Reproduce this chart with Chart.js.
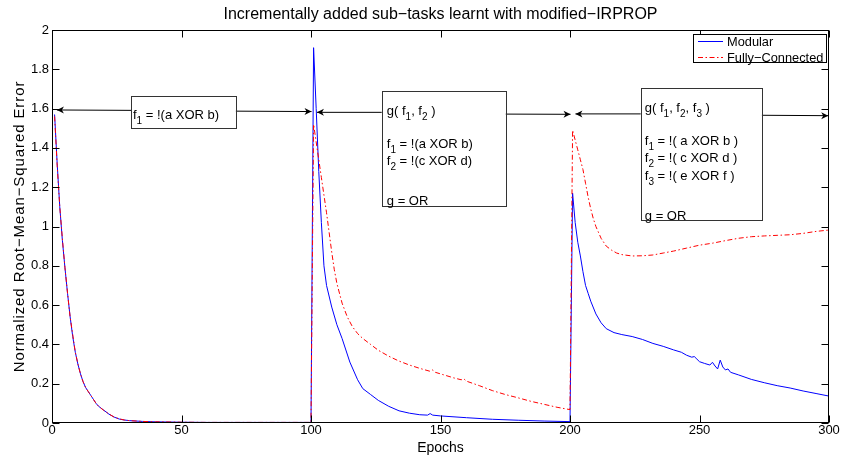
<!DOCTYPE html>
<html>
<head>
<meta charset="utf-8">
<title>Incrementally added sub-tasks</title>
<script src="https://cdn.jsdelivr.net/npm/chart.js@4.4.0/dist/chart.umd.min.js"></script>
<style>
    html, body { margin: 0; padding: 0; background: #fff; }
    #ErrorChart { display: block; }
</style>
</head>
<body>
<canvas id="ErrorChart" width="841" height="456"></canvas>
<script>
// values
var modularEpochs = [1, 2, 3, 4, 5, 6, 7, 8, 9, 10, 11, 12, 13, 14, 15, 16, 17, 18, 20, 22, 24, 26, 28, 30, 35, 40, 50, 60, 70, 80, 90, 100,
    101, 102, 103, 104, 105, 106, 108, 110, 112, 115, 118, 120, 123, 126, 130, 134, 138, 142, 145, 146, 147, 150, 160, 170, 180, 190, 200,
    201, 202, 203, 204, 205, 206, 207, 208, 210, 212, 214, 217, 220, 224, 228, 232, 236, 240, 243, 245, 247, 248, 249, 250, 252, 254, 255, 256, 257, 258, 259, 260, 261, 262, 265, 270, 275, 280, 285, 290, 295, 300];
var modularError = [1.57, 1.32, 1.10, 0.93, 0.79, 0.66, 0.54, 0.44, 0.36, 0.30, 0.25, 0.21, 0.18, 0.16, 0.14, 0.12, 0.10, 0.085, 0.065, 0.045, 0.03, 0.02, 0.015, 0.012, 0.008, 0.006, 0.004, 0.003, 0.003, 0.003, 0.003, 0.003,
    1.91, 1.60, 1.28, 1.02, 0.80, 0.70, 0.59, 0.50, 0.43, 0.31, 0.22, 0.175, 0.145, 0.115, 0.085, 0.062, 0.05, 0.042, 0.04, 0.048, 0.04, 0.036, 0.027, 0.019, 0.014, 0.01, 0.007,
    1.17, 1.02, 0.92, 0.85, 0.77, 0.70, 0.66, 0.62, 0.555, 0.51, 0.48, 0.46, 0.45, 0.44, 0.425, 0.405, 0.39, 0.372, 0.36, 0.345, 0.335, 0.338, 0.325, 0.312, 0.303, 0.295, 0.309, 0.29, 0.275, 0.32, 0.285, 0.27, 0.275, 0.258, 0.245, 0.222, 0.205, 0.19, 0.178, 0.163, 0.15, 0.137];

var fullEpochs = [1, 2, 3, 4, 5, 6, 7, 8, 9, 10, 11, 12, 13, 14, 15, 16, 17, 18, 20, 22, 24, 26, 28, 30, 35, 40, 50, 60, 70, 80, 90, 100,
    101, 102, 103, 104, 105, 106, 107, 108, 109, 110, 112, 114, 116, 118, 120, 123, 126, 130, 134, 138, 142, 146, 147, 148, 150, 155, 158, 159, 160, 165, 170, 175, 180, 185, 190, 195, 200,
    201, 202, 203, 204, 205, 206, 207, 208, 209, 210, 212, 214, 216, 218, 220, 224, 228, 232, 236, 240, 245, 250, 255, 260, 265, 270, 275, 280, 285, 290, 295, 300];
var fullError = [1.56, 1.31, 1.10, 0.94, 0.79, 0.66, 0.54, 0.45, 0.36, 0.30, 0.25, 0.21, 0.18, 0.16, 0.14, 0.12, 0.10, 0.085, 0.064, 0.046, 0.03, 0.021, 0.015, 0.012, 0.008, 0.006, 0.004, 0.003, 0.003, 0.003, 0.003, 0.003,
    1.52, 1.43, 1.34, 1.25, 1.16, 1.07, 0.97, 0.87, 0.78, 0.71, 0.61, 0.54, 0.49, 0.455, 0.43, 0.40, 0.37, 0.34, 0.315, 0.295, 0.278, 0.263, 0.27, 0.258, 0.25, 0.23, 0.22, 0.225, 0.213, 0.19, 0.165, 0.145, 0.128, 0.11, 0.095, 0.08, 0.068,
    1.49, 1.44, 1.39, 1.34, 1.29, 1.22, 1.15, 1.09, 1.04, 1.00, 0.94, 0.90, 0.88, 0.865, 0.857, 0.85, 0.851, 0.855, 0.865, 0.875, 0.89, 0.905, 0.915, 0.928, 0.94, 0.948, 0.952, 0.955, 0.958, 0.965, 0.975, 0.982];

var seriesLabels = ['Modular', 'Fully\u2212Connected'];
var epochTicks = [0, 50, 100, 150, 200, 250, 300];
var errorTicks = [0, 0.2, 0.4, 0.6, 0.8, 1, 1.2, 1.4, 1.6, 1.8, 2];
var errorTickLabels = ['0', '0.2', '0.4', '0.6', '0.8', '1', '1.2', '1.4', '1.6', '1.8', '2'];

var chartTitle = 'Incrementally added sub\u2212tasks learnt with modified\u2212IRPROP';
var xTitle = 'Epochs';
var yTitle = 'Normalized Root\u2212Mean\u2212Squared Error';

// text boxes (epoch / error units), text rows are pixel offsets from the box top
var noteBoxes = [
    { x0: 30.5, x1: 71.0, y0: 1.664, y1: 1.500, pad: 1.5, rows: [[22, 'f_1 = !(a XOR b)']] },
    { x0: 127.3, x1: 175.2, y0: 1.691, y1: 1.106, pad: 4.3, rows: [[23.8, 'g( f_1, f_2 )'], [56.6, 'f_1 = !(a XOR b)'], [73.9, 'f_2 = !(c XOR d)'], [113.3, 'g = OR']] },
    { x0: 227.3, x1: 274.1, y0: 1.705, y1: 1.032, pad: 3.3, rows: [[23, 'g( f_1, f_2, f_3 )'], [56.6, 'f_1 = !( a XOR b )'], [73.6, 'f_2 = !( c XOR d )'], [91, 'f_3 = !( e XOR f )'], [131.3, 'g = OR']] }
];
// [tail epoch, tail error, head epoch, head error]
var noteArrows = [
    [30.5, 1.591, 1.9, 1.593],
    [71.0, 1.587, 100.2, 1.585],
    [127.3, 1.581, 102.3, 1.581],
    [175.2, 1.572, 200.2, 1.571],
    [227.3, 1.573, 202.1, 1.573],
    [274.1, 1.566, 299.7, 1.564]
];

var FONT = "'Liberation Sans', Arial, Helvetica, sans-serif";

function toPoints(xs, ys) {
    return xs.map(function (x, i) { return { x: x, y: ys[i] }; });
}

function drawRich(ctx, text, x, y, size) {
    // "_1" -> subscript 1
    var parts = text.split(/_(\d)/);
    for (var i = 0; i < parts.length; i++) {
        if (parts[i] === '') continue;
        if (i % 2 === 1) {
            ctx.font = (size - 3) + 'px ' + FONT;
            ctx.fillText(parts[i], x, y + 5);
        } else {
            ctx.font = size + 'px ' + FONT;
            ctx.fillText(parts[i], x, y);
        }
        x += ctx.measureText(parts[i]).width;
    }
}

function drawHead(ctx, tx, ty, fx, fy) {
    var a = Math.atan2(ty - fy, tx - fx);
    ctx.save();
    ctx.translate(tx, ty);
    ctx.rotate(a);
    ctx.beginPath();
    ctx.moveTo(0, 0);
    ctx.lineTo(-7, -3.5);
    ctx.lineTo(-5, 0);
    ctx.lineTo(-7, 3.5);
    ctx.closePath();
    ctx.fill();
    ctx.restore();
}

var matlabLook = {
    id: 'matlabLook',
    afterDraw: function (chart) {
        var ctx = chart.ctx;
        var area = chart.chartArea;
        var xs = chart.scales.x, ys = chart.scales.y;
        var L = Math.round(area.left) + 0.5, R = Math.round(area.right) - 0.5;
        var T = Math.round(area.top) + 0.5, B = Math.round(area.bottom) - 0.5;
        ctx.save();

        // axes box and inward ticks
        ctx.strokeStyle = '#000';
        ctx.lineWidth = 1;
        ctx.strokeRect(L, T, R - L, B - T);
        ctx.beginPath();
        epochTicks.forEach(function (v) {
            var p = Math.round(xs.getPixelForValue(v)) + 0.5;
            ctx.moveTo(p, B); ctx.lineTo(p, B - 7);
            ctx.moveTo(p, T); ctx.lineTo(p, T + 7);
        });
        errorTicks.forEach(function (v) {
            var p = Math.round(ys.getPixelForValue(v)) + 0.5;
            ctx.moveTo(L, p); ctx.lineTo(L + 7, p);
            ctx.moveTo(R, p); ctx.lineTo(R - 7, p);
        });
        ctx.stroke();

        // titles
        ctx.fillStyle = '#000';
        ctx.textAlign = 'center';
        ctx.textBaseline = 'alphabetic';
        ctx.font = '16px ' + FONT;
        ctx.fillText(chartTitle, (area.left + area.right) / 2, 18.5);
        ctx.font = '14px ' + FONT;
        ctx.fillText(xTitle, (area.left + area.right) / 2, 451.5);
        ctx.save();
        ctx.translate(24, (area.top + area.bottom) / 2);
        ctx.rotate(-Math.PI / 2);
        ctx.font = '15px ' + FONT;
        ctx.letterSpacing = '0.9px';
        ctx.fillText(yTitle, 0, 0);
        ctx.restore();

        // arrows
        ctx.strokeStyle = '#000';
        ctx.fillStyle = '#000';
        noteArrows.forEach(function (a) {
            var x0 = xs.getPixelForValue(a[0]), y0 = ys.getPixelForValue(a[1]);
            var x1 = xs.getPixelForValue(a[2]), y1 = ys.getPixelForValue(a[3]);
            ctx.beginPath();
            ctx.moveTo(x0, y0);
            ctx.lineTo(x1, y1);
            ctx.stroke();
            drawHead(ctx, x1, y1, x0, y0);
        });

        // text boxes
        ctx.textAlign = 'left';
        noteBoxes.forEach(function (b) {
            var bx = Math.round(xs.getPixelForValue(b.x0)) + 0.5, by = Math.round(ys.getPixelForValue(b.y0)) + 0.5;
            var bw = Math.round(xs.getPixelForValue(b.x1)) + 0.5 - bx, bh = Math.round(ys.getPixelForValue(b.y1)) + 0.5 - by;
            ctx.strokeStyle = '#333';
            ctx.strokeRect(bx, by, bw, bh);
            ctx.fillStyle = '#000';
            b.rows.forEach(function (r) {
                drawRich(ctx, r[1], bx + b.pad, by + r[0], 13);
            });
        });

        // legend
        var lx = 693.5, ly = 34.5, lw = 133, lh = 28;
        ctx.fillStyle = '#fff';
        ctx.fillRect(lx, ly, lw, lh);
        ctx.strokeStyle = '#000';
        ctx.strokeRect(lx, ly, lw, lh);
        chart.data.datasets.forEach(function (ds, i) {
            var yy = ly + 7 + i * 16;
            ctx.strokeStyle = ds.borderColor;
            ctx.setLineDash(ds.borderDash || []);
            ctx.beginPath();
            ctx.moveTo(lx + 4.5, yy);
            ctx.lineTo(lx + 29.5, yy);
            ctx.stroke();
            ctx.setLineDash([]);
            ctx.fillStyle = '#000';
            ctx.font = '12.8px ' + FONT;
            ctx.fillText(ds.label, lx + 33.5, yy + 4.5);
        });
        ctx.restore();
    }
};

var ctx = document.getElementById('ErrorChart').getContext('2d');
window.ErrorChart = new Chart(ctx, {
    type: 'line',
    data: {
        datasets: [{
            label: seriesLabels[0],
            data: toPoints(modularEpochs, modularError),
            borderColor: 'rgb(0, 0, 255)',
            borderWidth: 1,
            pointRadius: 0,
            tension: 0,
            order: 2
        }, {
            label: seriesLabels[1],
            data: toPoints(fullEpochs, fullError),
            borderColor: 'rgb(255, 0, 0)',
            borderWidth: 1,
            borderDash: [5, 2.5, 1.5, 2.5],
            pointRadius: 0,
            tension: 0,
            order: 1
        }]
    },
    options: {
        responsive: false,
        animation: false,
        devicePixelRatio: 1,
        parsing: false,
        layout: { padding: { top: 30, right: 12, left: 0, bottom: 0 } },
        plugins: {
            legend: { display: false },
            title: { display: false },
            tooltip: { enabled: false }
        },
        scales: {
            x: {
                type: 'linear',
                min: 0,
                max: 300,
                afterBuildTicks: function (scale) {
                    scale.ticks = epochTicks.map(function (v) { return { value: v }; });
                },
                afterFit: function (scale) { scale.height = 33; },
                grid: { display: false, drawTicks: false },
                border: { display: false },
                ticks: {
                    padding: 0,
                    maxRotation: 0,
                    color: '#000',
                    font: { family: FONT, size: 13 },
                    callback: function (value) { return String(value); }
                }
            },
            y: {
                type: 'linear',
                min: 0,
                max: 2,
                afterBuildTicks: function (scale) {
                    scale.ticks = errorTicks.map(function (v) { return { value: v }; });
                },
                afterFit: function (scale) { scale.width = 52; },
                grid: { display: false, drawTicks: false },
                border: { display: false },
                ticks: {
                    padding: 3,
                    color: '#000',
                    font: { family: FONT, size: 13 },
                    callback: function (value) {
                        var i = errorTicks.indexOf(value);
                        return i >= 0 ? errorTickLabels[i] : '';
                    }
                }
            }
        }
    },
    plugins: [matlabLook]
});
</script>
</body>
</html>
